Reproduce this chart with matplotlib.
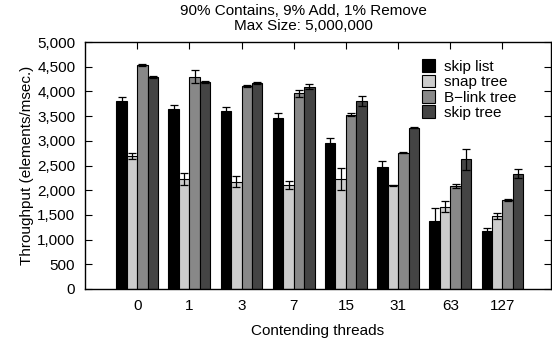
import matplotlib
matplotlib.use("Agg")
import matplotlib.pyplot as plt
import numpy as np

plt.rcParams['font.family'] = ['Liberation Sans', 'DejaVu Sans']

threads = ["0", "1", "3", "7", "15", "31", "63", "127"]
series = ["skip list", "snap tree", "B\u2212link tree", "skip tree"]
colors = ["#000000", "#cccccc", "#888888", "#444444"]

skip_list = [3810, 3640, 3610, 3455, 2960, 2470, 1385, 1180]
skip_list_err = [80, 80, 70, 100, 100, 115, 250, 60]
snap_tree = [2700, 2230, 2175, 2105, 2220, 2105, 1665, 1470]
snap_tree_err = [60, 125, 120, 80, 220, 10, 110, 60]
blink_tree = [4535, 4300, 4115, 3965, 3530, 2760, 2085, 1800]
blink_tree_err = [15, 140, 20, 70, 25, 10, 40, 25]
skip_tree = [4290, 4190, 4170, 4095, 3810, 3260, 2625, 2335]
skip_tree_err = [15, 15, 20, 50, 100, 10, 210, 95]

values = [skip_list, snap_tree, blink_tree, skip_tree]
errors = [skip_list_err, snap_tree_err, blink_tree_err, skip_tree_err]

fig = plt.figure(figsize=(5.52, 3.43), dpi=100)
ax = fig.add_axes([85/552, 1-289/343, 466/552, 247/343])

x = np.arange(len(threads))
w = 0.2
for i, (vals, errs) in enumerate(zip(values, errors)):
    pos = x + (i - 1.5) * w
    ax.bar(pos, vals, width=w, color=colors[i], edgecolor="black", linewidth=0.8,
           label=series[i], zorder=2)
    ax.errorbar(pos, vals, yerr=errs, fmt="none", ecolor="black", elinewidth=0.9,
                capsize=3.2, capthick=0.9, zorder=3)

ax.set_xlim(-1.0, 7.93)
ax.set_ylim(0, 5000)
ax.set_yticks(np.arange(0, 5001, 500))
ax.set_yticklabels([f"{v:,}" for v in range(0, 5001, 500)])
ax.set_xticks(x)
ax.set_xticklabels(threads)
ax.tick_params(axis="both", direction="in", length=5, width=0.8, labelsize=11,
               top=True, right=True, pad=7)
ax.tick_params(axis="x", length=5, pad=7)
for s in ax.spines.values():
    s.set_linewidth(1.0)

ax.set_xlabel("Contending threads", fontsize=11, labelpad=8)
ax.set_ylabel("Throughput (elements/msec.)", fontsize=11, labelpad=2)

fig.text(303/552, 1-11/343, "90% Contains, 9% Add, 1% Remove", ha="center", va="center", fontsize=11)
fig.text(303/552, 1-26/343, "Max Size: 5,000,000", ha="center", va="center", fontsize=11)

leg = ax.legend(loc="upper right", bbox_to_anchor=(0.94, 0.955), frameon=False,
                fontsize=11, handlelength=0.9, handleheight=0.9, handletextpad=0.6,
                labelspacing=0.05, borderaxespad=0)

fig.savefig("out.png", dpi=100)
